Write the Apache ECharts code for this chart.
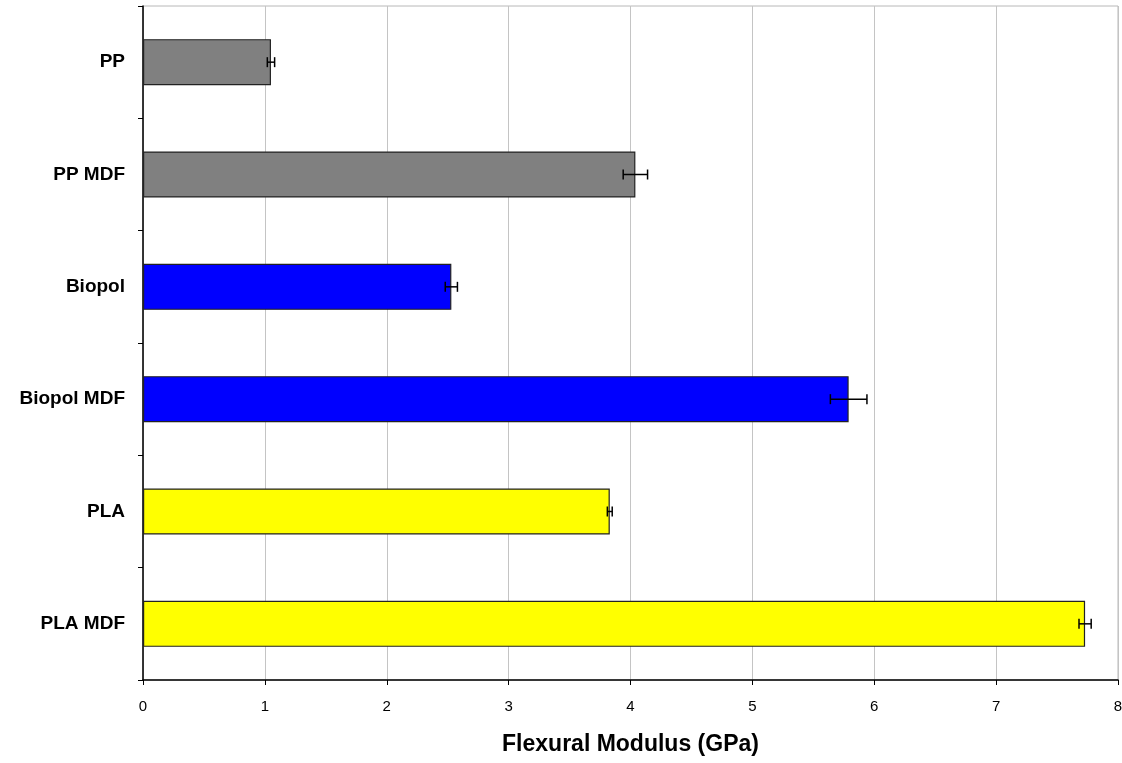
<!DOCTYPE html>
<html>
<head>
<meta charset="utf-8">
<script src="https://cdn.jsdelivr.net/npm/echarts@6/dist/echarts.min.js"></script>
<style>
  html, body { margin: 0; padding: 0; background: #fff; }
  #chart { width: 1122px; height: 763px; }
</style>
</head>
<body>
<div id="chart"></div>
<script>
// data
const categories = ["PP", "PP MDF", "Biopol", "Biopol MDF", "PLA", "PLA MDF"];
const materials = ["PP", "PP", "Biopol", "Biopol", "PLA", "PLA"];
const modulus = [1.05, 4.04, 2.53, 5.79, 3.83, 7.73];
const errors = [0.03, 0.10, 0.05, 0.15, 0.02, 0.05];
const xTicks = [0, 1, 2, 3, 4, 5, 6, 7, 8];

const colours = {PP: "#808080", Biopol: "#0000ff", PLA: "#ffff00"};

const myChart = echarts.init(document.getElementById("chart"));

var option = {
  animation: false,
  textStyle: {fontFamily: "Liberation Sans, Arial, sans-serif"},
  grid: {
    left: 143, right: 4, top: 6, bottom: 83,
    outerBoundsMode: "none",
    containLabel: false,
    show: true, borderColor: "#b8b8b8", borderWidth: 1
  },
  xAxis: {
    type: "value",
    min: xTicks[0],
    max: xTicks[xTicks.length - 1],
    interval: 1,
    name: "Flexural Modulus (GPa)",
    nameLocation: "middle",
    nameGap: 53,
    nameTextStyle: {fontSize: 23, fontWeight: "bold", color: "#000"},
    axisLine: {show: true, lineStyle: {color: "#000", width: 1.5}},
    axisTick: {show: true, length: 5, lineStyle: {color: "#000"}},
    axisLabel: {fontSize: 15, color: "#000", margin: 19},
    splitLine: {show: true, lineStyle: {color: "#c4c4c4", width: 1}}
  },
  yAxis: {
    type: "category",
    data: categories,
    inverse: true,
    axisLine: {show: true, lineStyle: {color: "#000", width: 1.5}},
    axisTick: {show: true, length: 5, lineStyle: {color: "#000"}},
    axisLabel: {fontSize: 19, fontWeight: "bold", color: "#000", margin: 18},
    splitLine: {show: false}
  },
  series: [
    {
      type: "bar",
      barWidth: "41%",
      data: modulus.map((v, i) => ({
        value: v,
        itemStyle: {color: colours[materials[i]]}
      })),
      itemStyle: {borderColor: "#222", borderWidth: 1.2}
    },
    {
      type: "custom",
      data: modulus.map((v, i) => [i, v - errors[i], v + errors[i]]),
      encode: {x: [1, 2], y: 0},
      z: 5,
      renderItem: function (params, api) {
        const lo = api.coord([api.value(1), api.value(0)]);
        const hi = api.coord([api.value(2), api.value(0)]);
        const cap = 5;
        const style = {stroke: "#000", lineWidth: 1.5};
        return {
          type: "group",
          children: [
            {type: "line", shape: {x1: lo[0], y1: lo[1], x2: hi[0], y2: hi[1]}, style: style},
            {type: "line", shape: {x1: lo[0], y1: lo[1] - cap, x2: lo[0], y2: lo[1] + cap}, style: style},
            {type: "line", shape: {x1: hi[0], y1: hi[1] - cap, x2: hi[0], y2: hi[1] + cap}, style: style}
          ]
        };
      }
    }
  ]
};

myChart.setOption(option);
</script>
</body>
</html>
